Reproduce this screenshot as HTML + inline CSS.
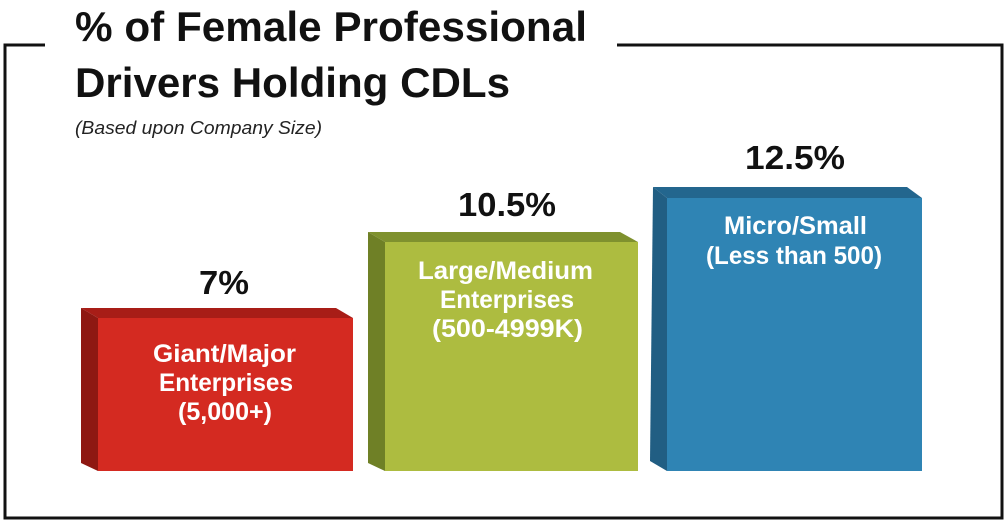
<!DOCTYPE html>
<html><head><style>body{margin:0;background:#fff}svg{display:block}</style></head><body>
<svg width="1008" height="523" viewBox="0 0 1008 523" font-family="Liberation Sans, sans-serif">
<polyline points="45,45 5,45 5,518 1002,518 1002,45 617,45" fill="none" stroke="#111" stroke-width="3"/>
<text x="75" y="41" font-size="42" font-weight="bold" fill="#111" textLength="512" lengthAdjust="spacingAndGlyphs">% of Female Professional</text>
<text x="75" y="97" font-size="42" font-weight="bold" fill="#111" textLength="435" lengthAdjust="spacingAndGlyphs">Drivers Holding CDLs</text>
<text x="75" y="134" font-size="18" font-style="italic" fill="#222" textLength="247" lengthAdjust="spacingAndGlyphs">(Based upon Company Size)</text>
<!-- red -->
<polygon points="81,308 336,308 353,318 98,318" fill="#a81d17"/>
<polygon points="81,308 98,318 98,471 81,463" fill="#8e1812"/>
<rect x="98" y="318" width="255" height="153" fill="#d42a21"/>
<text x="199" y="294" font-size="33" font-weight="bold" fill="#111" textLength="50" lengthAdjust="spacingAndGlyphs">7%</text>
<g font-size="25" font-weight="bold" fill="#fff">
<text x="153" y="362" textLength="143" lengthAdjust="spacingAndGlyphs">Giant/Major</text>
<text x="159" y="391" textLength="134" lengthAdjust="spacingAndGlyphs">Enterprises</text>
<text x="178" y="420" textLength="94" lengthAdjust="spacingAndGlyphs">(5,000+)</text>
</g>
<!-- green -->
<polygon points="368,232 620,232 638,242 385,242" fill="#7f912e"/>
<polygon points="368,232 385,242 385,471 368,463" fill="#6f8026"/>
<rect x="385" y="242" width="253" height="229" fill="#adbc40"/>
<text x="458" y="216" font-size="33" font-weight="bold" fill="#111" textLength="98" lengthAdjust="spacingAndGlyphs">10.5%</text>
<g font-size="25" font-weight="bold" fill="#fff">
<text x="418" y="279" textLength="175" lengthAdjust="spacingAndGlyphs">Large/Medium</text>
<text x="440" y="308" textLength="134" lengthAdjust="spacingAndGlyphs">Enterprises</text>
<text x="432" y="337" textLength="151" lengthAdjust="spacingAndGlyphs">(500-4999K)</text>
</g>
<!-- blue -->
<polygon points="653,187 907,187 922,198 667,198" fill="#23668e"/>
<polygon points="653,187 667,198 667,471 650,461" fill="#215e83"/>
<rect x="667" y="198" width="255" height="273" fill="#2f84b4"/>
<text x="745" y="169" font-size="33" font-weight="bold" fill="#111" textLength="100" lengthAdjust="spacingAndGlyphs">12.5%</text>
<g font-size="25" font-weight="bold" fill="#fff">
<text x="724" y="234" textLength="143" lengthAdjust="spacingAndGlyphs">Micro/Small</text>
<text x="706" y="264" textLength="176" lengthAdjust="spacingAndGlyphs">(Less than 500)</text>
</g>
</svg>
</body></html>
